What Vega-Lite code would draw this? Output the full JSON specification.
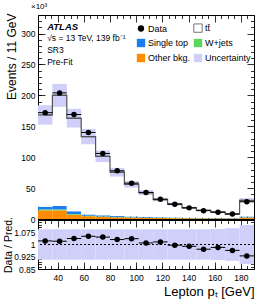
{
  "$schema": "https://vega.github.io/schema/vega-lite/v6.json",
  "padding": {"left": 2, "top": 2, "right": 13, "bottom": 4},
  "bounds": "flush",
  "spacing": 1,
  "config": {
    "font": "Liberation Sans",
    "view": {"stroke": "#000000", "strokeWidth": 1},
    "axis": {"domain": false, "grid": false, "labelFont": "Liberation Sans", "labelColor": "#000000", "tickColor": "#000000", "tickWidth": 0.8, "titleFont": "Liberation Sans", "titleFontWeight": "normal", "titleColor": "#000000", "labelOverlap": false, "labelFlush": false, "tickCount": 100},
    "title": {"font": "Liberation Sans", "fontWeight": "normal", "color": "#000000"}
  },
  "datasets": {
    "bins": [
      {"lo": 25, "hi": 36, "data": 172, "ttbar": 148.3, "stop": 4.5, "wjets": 1.5, "other": 14, "unc": 0.093},
      {"lo": 36, "hi": 47, "data": 204, "ttbar": 179.0, "stop": 5.5, "wjets": 1.5, "other": 14, "unc": 0.093},
      {"lo": 47, "hi": 58, "data": 169, "ttbar": 150.6, "stop": 4.2, "wjets": 1.2, "other": 7, "unc": 0.093},
      {"lo": 58, "hi": 69, "data": 140, "ttbar": 126.0, "stop": 2.0, "wjets": 0.8, "other": 4.5, "unc": 0.093},
      {"lo": 69, "hi": 80, "data": 106, "ttbar": 95.4, "stop": 1.8, "wjets": 0.7, "other": 3.5, "unc": 0.093},
      {"lo": 80, "hi": 91, "data": 78, "ttbar": 70.7, "stop": 1.6, "wjets": 0.6, "other": 2.8, "unc": 0.093},
      {"lo": 91, "hi": 102, "data": 58, "ttbar": 52.0, "stop": 1.3, "wjets": 0.5, "other": 2.2, "unc": 0.093},
      {"lo": 102, "hi": 113, "data": 43, "ttbar": 39.3, "stop": 1.1, "wjets": 0.4, "other": 1.8, "unc": 0.093},
      {"lo": 113, "hi": 124, "data": 32, "ttbar": 28.7, "stop": 0.95, "wjets": 0.35, "other": 1.5, "unc": 0.093},
      {"lo": 124, "hi": 135, "data": 24, "ttbar": 21.7, "stop": 0.8, "wjets": 0.3, "other": 1.3, "unc": 0.093},
      {"lo": 135, "hi": 146, "data": 18, "ttbar": 16.1, "stop": 0.72, "wjets": 0.28, "other": 1.1, "unc": 0.093},
      {"lo": 146, "hi": 157, "data": 13.5, "ttbar": 12.0, "stop": 0.65, "wjets": 0.25, "other": 1.0, "unc": 0.093},
      {"lo": 157, "hi": 168, "data": 11, "ttbar": 9.5, "stop": 0.58, "wjets": 0.22, "other": 0.9, "unc": 0.095},
      {"lo": 168, "hi": 179, "data": 8, "ttbar": 6.8, "stop": 0.5, "wjets": 0.2, "other": 0.8, "unc": 0.1},
      {"lo": 179, "hi": 190, "data": 28, "ttbar": 26.1, "stop": 1.3, "wjets": 0.5, "other": 2.2, "unc": 0.12}
    ]
  },
  "vconcat": [
    {
      "width": 216,
      "height": 204,
      "title": {"text": "×10³", "anchor": "start", "fontSize": 8, "offset": 2, "dx": -7, "frame": "group"},
      "layer": [
        {
          "data": {"name": "bins"},
          "transform": [
            {"calculate": "datum.ttbar + datum.stop + datum.wjets + datum.other", "as": "total"},
            {"calculate": "(datum.lo + datum.hi) / 2", "as": "mid"},
            {"calculate": "datum.total * (1 - datum.unc)", "as": "bandLo"},
            {"calculate": "datum.total * (1 + datum.unc)", "as": "bandHi"}
          ],
          "layer": [
            {
              "transform": [
                {"fold": ["other", "wjets", "stop", "ttbar"], "as": ["key", "v"]},
                {"calculate": "datum.key === 'other' ? 'Other bkg.' : datum.key === 'wjets' ? 'W+jets' : datum.key === 'stop' ? 'Single top' : 'tt̄'", "as": "sample"},
                {"calculate": "indexof(['other', 'wjets', 'stop', 'ttbar'], datum.key)", "as": "ord"},
                {"stack": "v", "groupby": ["lo"], "sort": [{"field": "ord", "order": "ascending"}], "as": ["v0", "v1"]}
              ],
              "mark": {"type": "rect"},
              "encoding": {
                "x": {
                  "field": "lo", "type": "quantitative",
                  "scale": {"domain": [25, 190], "nice": false, "zero": false},
                  "axis": {
                    "orient": "bottom", "title": null, "labels": false, "tickCount": 100,
                    "values": [40, 60, 80, 100, 120, 140, 160, 180],
                    "tickSize": -7
                  }
                },
                "x2": {"field": "hi"},
                "y": {
                  "field": "v0", "type": "quantitative",
                  "scale": {"domain": [0, 330], "nice": false},
                  "axis": {
                    "orient": "left", "title": "Events / 11 GeV", "titleFontSize": 12,
                    "titleAngle": -90, "titleX": -27, "titleY": -2, "titleAlign": "right", "titleBaseline": "middle",
                    "values": [0, 50, 100, 150, 200, 250, 300], "tickCount": 100,
                    "format": "d",
                    "labelOverlap": false, "labelFlush": false,
                    "labelFontSize": 8.5, "labelPadding": 10,
                    "tickSize": -7
                  }
                },
                "y2": {"field": "v1"},
                "fill": {
                  "field": "sample", "type": "nominal",
                  "scale": {
                    "domain": ["Data", "Single top", "Other bkg.", "tt̄", "W+jets", "Uncertainty"],
                    "range": ["#000000", "#1a7ef2", "#ff8c00", "#ffffff", "#5cd65c", "#cfcff9"]
                  },
                  "legend": {
                    "orient": "none", "legendX": 98, "legendY": 8, "columns": 2, "title": null,
                    "padding": 0, "symbolType": "square", "symbolSize": 70, "symbolStrokeWidth": 0.8,
                    "labelFontSize": 9, "labelFont": "Liberation Sans", "labelColor": "#000000", "labelOffset": 2,
                    "rowPadding": 3, "columnPadding": 1,
                    "encode": {
                      "symbols": {
                        "update": {
                          "shape": {"signal": "datum.value === 'Data' ? 'circle' : 'square'"},
                          "stroke": {"signal": "datum.value === 'tt̄' ? '#555555' : 'transparent'"},
                          "size": {"signal": "datum.value === 'Data' ? 40 : 70"}
                        }
                      }
                    }
                  }
                }
              }
            },
            {
              "mark": {"type": "rect", "fill": "#cfcff9"},
              "encoding": {
                "x": {"field": "lo", "type": "quantitative"},
                "x2": {"field": "hi"},
                "y": {"field": "bandLo", "type": "quantitative"},
                "y2": {"field": "bandHi"}
              }
            },
            {
              "mark": {"type": "rule", "stroke": "#555555", "strokeWidth": 1.2},
              "encoding": {
                "x": {"field": "lo", "type": "quantitative"},
                "x2": {"field": "hi"},
                "y": {"field": "total", "type": "quantitative"}
              }
            },
            {
              "mark": {"type": "line", "interpolate": "step", "stroke": "#555555", "strokeWidth": 1.2},
              "encoding": {
                "x": {"field": "mid", "type": "quantitative"},
                "y": {"field": "total", "type": "quantitative"}
              }
            },
            {
              "mark": {"type": "rule", "stroke": "#000000", "strokeWidth": 1},
              "encoding": {
                "x": {"field": "lo", "type": "quantitative"},
                "x2": {"field": "hi"},
                "y": {"field": "data", "type": "quantitative"}
              }
            },
            {
              "mark": {"type": "point", "shape": "circle", "filled": true, "color": "#000000", "size": 30, "opacity": 1},
              "encoding": {
                "x": {"field": "mid", "type": "quantitative"},
                "y": {"field": "data", "type": "quantitative"}
              }
            },
            {
              "data": {"values": [{}]},
              "mark": {"type": "text", "text": "ATLAS", "font": "Liberation Sans", "fontStyle": "italic", "fontWeight": "bold", "fontSize": 9.5, "align": "left", "baseline": "middle", "color": "#000000"},
              "encoding": {"x": {"datum": 32}, "y": {"datum": 310}}
            },
            {
              "data": {"values": [{}]},
              "mark": {"type": "text", "text": ["√s = 13 TeV, 139 fb⁻¹", "SR3", "Pre-Fit"], "font": "Liberation Sans", "fontSize": 8.5, "lineHeight": 12, "align": "left", "baseline": "top", "color": "#000000"},
              "encoding": {"x": {"datum": 32}, "y": {"datum": 300}}
            }
          ]
        },
        {
          "data": {"values": [{}]},
          "mark": {"type": "point", "opacity": 0},
          "encoding": {
            "x": {
              "datum": 25, "type": "quantitative",
              "axis": {
                "orient": "bottom", "title": null, "labels": false, "tickCount": 100,
                "values": [25,30,35,40,45,50,55,60,65,70,75,80,85,90,95,100,105,110,115,120,125,130,135,140,145,150,155,160,165,170,175,180,185,190],
                "tickSize": -3.5
              }
            },
            "y": {
              "datum": 0, "type": "quantitative",
              "axis": {
                "orient": "left", "title": null, "labels": false, "tickCount": 100,
                "values": [0,10,20,30,40,50,60,70,80,90,100,110,120,130,140,150,160,170,180,190,200,210,220,230,240,250,260,270,280,290,300,310,320,330],
                "tickSize": -3.5
              }
            }
          }
        },
        {
          "data": {"values": [{}]},
          "mark": {"type": "point", "opacity": 0},
          "encoding": {
            "x": {
              "datum": 25, "type": "quantitative",
              "axis": {
                "orient": "top", "title": null, "labels": false, "tickCount": 100,
                "values": [25,30,35,40,45,50,55,60,65,70,75,80,85,90,95,100,105,110,115,120,125,130,135,140,145,150,155,160,165,170,175,180,185,190],
                "tickSize": {"condition": {"test": "datum.value % 20 === 0", "value": -7}, "value": -3.5}
              }
            },
            "y": {
              "datum": 0, "type": "quantitative",
              "axis": {
                "orient": "right", "title": null, "labels": false, "tickCount": 100,
                "values": [0,10,20,30,40,50,60,70,80,90,100,110,120,130,140,150,160,170,180,190,200,210,220,230,240,250,260,270,280,290,300,310,320,330],
                "tickSize": {"condition": {"test": "datum.value % 50 === 0", "value": -7}, "value": -3.5}
              }
            }
          }
        }
      ],
      "resolve": {"axis": {"x": "independent", "y": "independent"}}
    },
    {
      "width": 216,
      "height": 49,
      "layer": [
        {
          "data": {"name": "bins"},
          "transform": [
            {"calculate": "datum.ttbar + datum.stop + datum.wjets + datum.other", "as": "total"},
            {"calculate": "(datum.lo + datum.hi) / 2", "as": "mid"},
            {"calculate": "datum.data / datum.total", "as": "ratio"},
            {"calculate": "1 - datum.unc", "as": "rLo"},
            {"calculate": "1 + datum.unc", "as": "rHi"}
          ],
          "layer": [
            {
              "mark": {"type": "rect", "fill": "#cfcff9"},
              "encoding": {
                "x": {
                  "field": "lo", "type": "quantitative",
                  "scale": {"domain": [25, 190], "nice": false, "zero": false},
                  "axis": {
                    "orient": "bottom", "title": "Lepton pₜ [GeV]", "titleFontSize": 13,
                    "titleX": 216, "titleY": 26.5, "titleAlign": "right", "titleBaseline": "alphabetic", "titleAngle": 0,
                    "values": [40, 60, 80, 100, 120, 140, 160, 180], "tickCount": 100,
                    "labelOverlap": false, "labelFlush": false,
                    "labelFontSize": 8.5, "labelPadding": 11,
                    "tickSize": -7
                  }
                },
                "x2": {"field": "hi"},
                "y": {
                  "field": "rLo", "type": "quantitative",
                  "scale": {"domain": [0.85, 1.15], "nice": false, "zero": false},
                  "axis": {
                    "orient": "left", "title": "Data / Pred.", "titleFontSize": 10.5,
                    "titleAngle": -90, "titleX": -30, "titleY": 24.5, "titleAlign": "center", "titleBaseline": "middle",
                    "values": [0.85, 0.925, 1, 1.075], "tickCount": 100,
                    "format": "~g",
                    "labelOverlap": false, "labelFlush": false,
                    "labelFontSize": 8.5, "labelPadding": 10,
                    "tickSize": -7
                  }
                },
                "y2": {"field": "rHi"}
              }
            },
            {
              "mark": {"type": "rule", "stroke": "#000000", "strokeWidth": 0.9, "strokeDash": [2, 2]},
              "encoding": {"y": {"datum": 1, "type": "quantitative"}}
            },
            {
              "mark": {"type": "rule", "stroke": "#000000", "strokeWidth": 1},
              "encoding": {
                "x": {"field": "lo", "type": "quantitative"},
                "x2": {"field": "hi"},
                "y": {"field": "ratio", "type": "quantitative"}
              }
            },
            {
              "mark": {"type": "point", "shape": "circle", "filled": true, "color": "#000000", "size": 30, "opacity": 1},
              "encoding": {
                "x": {"field": "mid", "type": "quantitative"},
                "y": {"field": "ratio", "type": "quantitative"}
              }
            }
          ]
        },
        {
          "data": {"values": [{}]},
          "mark": {"type": "point", "opacity": 0},
          "encoding": {
            "x": {
              "datum": 25, "type": "quantitative",
              "axis": {
                "orient": "bottom", "title": null, "labels": false, "tickCount": 100,
                "values": [25,30,35,40,45,50,55,60,65,70,75,80,85,90,95,100,105,110,115,120,125,130,135,140,145,150,155,160,165,170,175,180,185,190],
                "tickSize": -3.5
              }
            },
            "y": {
              "datum": 1, "type": "quantitative",
              "axis": {
                "orient": "left", "title": null, "labels": false, "tickCount": 100,
                "values": [0.85,0.865,0.88,0.895,0.91,0.925,0.94,0.955,0.97,0.985,1,1.015,1.03,1.045,1.06,1.075,1.09,1.105,1.12,1.135,1.15],
                "tickSize": -3.5
              }
            }
          }
        },
        {
          "data": {"values": [{}]},
          "mark": {"type": "point", "opacity": 0},
          "encoding": {
            "x": {
              "datum": 25, "type": "quantitative",
              "axis": {
                "orient": "top", "title": null, "labels": false, "tickCount": 100,
                "values": [25,30,35,40,45,50,55,60,65,70,75,80,85,90,95,100,105,110,115,120,125,130,135,140,145,150,155,160,165,170,175,180,185,190],
                "tickSize": {"condition": {"test": "datum.value % 20 === 0", "value": -7}, "value": -3.5}
              }
            },
            "y": {
              "datum": 1, "type": "quantitative",
              "axis": {
                "orient": "right", "title": null, "labels": false, "tickCount": 100,
                "values": [0.85,0.865,0.88,0.895,0.91,0.925,0.94,0.955,0.97,0.985,1,1.015,1.03,1.045,1.06,1.075,1.09,1.105,1.12,1.135,1.15],
                "tickSize": {"condition": {"test": "abs((datum.value - 0.85) / 0.075 - round((datum.value - 0.85) / 0.075)) < 0.01", "value": -7}, "value": -3.5}
              }
            }
          }
        }
      ],
      "resolve": {"axis": {"x": "independent", "y": "independent"}}
    }
  ]
}
